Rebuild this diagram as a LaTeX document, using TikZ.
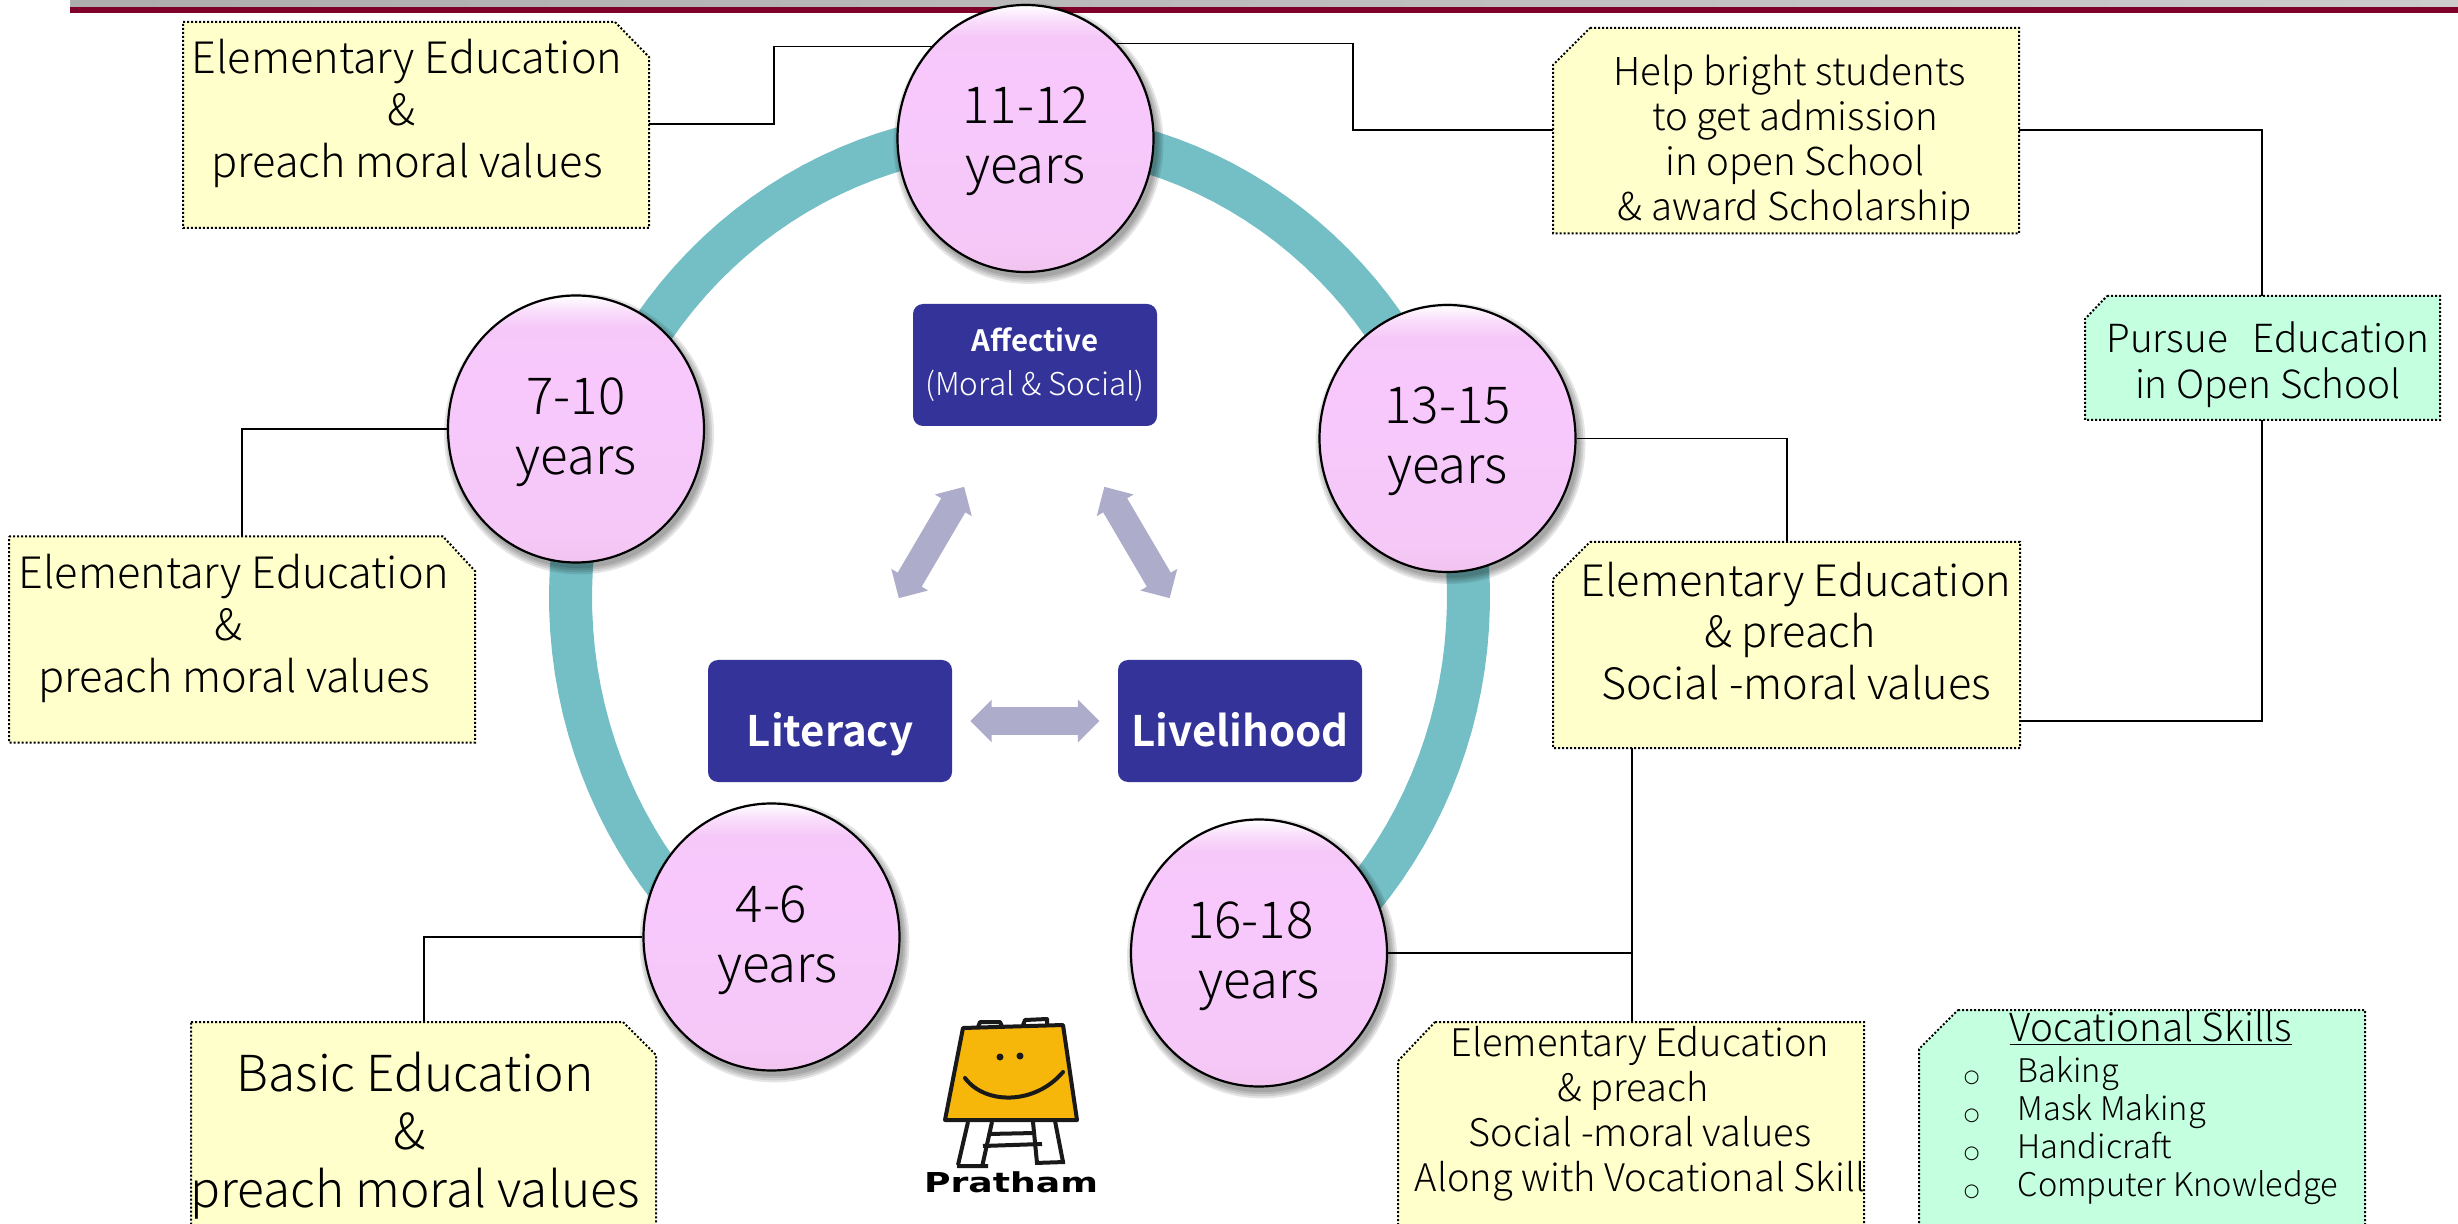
\documentclass[tikz,border=0pt]{standalone}
\usepackage{fontspec}
\usepackage{graphicx}
\setmainfont{Noto Sans CJK JP Light}[BoldFont={Noto Sans CJK JP Bold}]
\newfontfamily\logofont{DejaVu Sans}
\newfontfamily\bulletfont{DejaVu Sans}
\usetikzlibrary{shapes.geometric,shapes.arrows}
\definecolor{ringc}{HTML}{74BFC5}
\definecolor{yellowc}{HTML}{FFFFCC}
\definecolor{greenc}{HTML}{C4FFDF}
\definecolor{navyc}{HTML}{333399}
\definecolor{arrowc}{HTML}{ADADCB}
\definecolor{maroonc}{HTML}{7F0028}
\definecolor{logoc}{HTML}{F6B60A}
\definecolor{ballA}{HTML}{F1C4EF}
\definecolor{ballB}{HTML}{F5C8F8}
\definecolor{ballC}{HTML}{F8C8FC}
\definecolor{ballD}{HTML}{F6C8F9}
\definecolor{ballE}{HTML}{F9DDFB}
\pgfdeclareverticalshading{ballshade}{100bp}{color(0bp)=(ballA); color(25bp)=(ballA); color(30bp)=(ballB); color(60bp)=(ballC); color(69bp)=(ballD); color(72bp)=(ballE); color(75bp)=(white); color(100bp)=(white)}
\newcommand{\balltop}{\rule{0pt}{21.5pt}}
\newcommand{\ringbullet}{{\bulletfont\fontsize{9}{10}\selectfont ○}}
\tikzset{
  snipbox/.style={draw=black,fill=#1,line width=1pt,dash pattern=on 1pt off 1pt},
  boxtext/.style={inner sep=0pt,align=center,text=black},
  wire/.style={draw=black,line width=0.9pt},
  ball/.style={ellipse,draw=black,line width=1.1pt,minimum width=128pt,minimum height=133.5pt,inner sep=0pt,align=center,shading=ballshade,font=\fontsize{25.5}{30}\selectfont},
  ballshadow/.style={ellipse,fill=black,opacity=0.10,inner sep=0pt,minimum width=#1*0.5pt,minimum height=#1*0.5pt*1.04},
  navybox/.style={rectangle,rounded corners=5pt,fill=navyc,text=white,inner sep=0pt,minimum width=122pt,minimum height=61pt,align=center},
  twoway/.style={double arrow,fill=arrowc,inner sep=0pt,minimum width=21pt,minimum height=64.5pt,double arrow head extend=3.75pt},
  logoline/.style={draw=black!90,line width=2pt,line join=round}
}
\begin{document}
\begin{tikzpicture}[x=0.5pt,y=-0.5pt]
\useasboundingbox (0,0) rectangle (2458,1224);
\clip (0,0) rectangle (2458,1224);
% top band
\fill[left color=black!32,right color=black!20] (70,0) rectangle (2458,7);
\fill[maroonc] (70,7) rectangle (2458,13);
% ring
\draw[ringc,line width=21.5pt] plot[domain=-58:236,samples=120] ({1019.5+449*cos(\x)},{597-465*sin(\x)});
% boxes
\draw[snipbox=yellowc] (183,22) -- (615,22) -- (649,57) -- (649,228) -- (183,228) -- cycle;
\draw[snipbox=yellowc] (1590,28) -- (2019,28) -- (2019,233.5) -- (1553,233.5) -- (1553,65) -- cycle;
\draw[snipbox=greenc] (2107,296) -- (2440,296) -- (2440,420) -- (2085,420) -- (2085,319) -- cycle;
\draw[snipbox=yellowc] (1590,542) -- (2020,542) -- (2020,748) -- (1553,748) -- (1553,579) -- cycle;
\draw[snipbox=yellowc] (1435,1022) -- (1864,1022) -- (1864,1240) -- (1398,1240) -- (1398,1061) -- cycle;
\draw[snipbox=greenc] (1958,1010) -- (2365,1010) -- (2365,1240) -- (1919,1240) -- (1919,1049) -- cycle;
\draw[snipbox=yellowc] (9,536.5) -- (443,536.5) -- (475,571) -- (475,742.5) -- (9,742.5) -- cycle;
\draw[snipbox=yellowc] (191,1022) -- (623,1022) -- (656,1055) -- (656,1240) -- (191,1240) -- cycle;
% connector end points
\coordinate (b1r) at (649,124.4);
\coordinate (t1l) at (933,46.6);
\coordinate (t1r) at (1113,43.5);
\coordinate (b2l) at (1553,130);
\coordinate (b2r) at (2019,130);
\coordinate (b3t) at (2262,296);
\coordinate (b3b) at (2262,420);
\coordinate (b4r) at (2020,721);
\coordinate (b4t) at (1787,542);
\coordinate (b4b) at (1632,748);
\coordinate (b5t) at (1632,1022);
\coordinate (j5) at (1632,953);
\coordinate (b7t) at (242,536.5);
\coordinate (b8t) at (424,1022);
% connectors
\draw[wire] (b1r) -| (774,46.6) -- (t1l);
\draw[wire] (t1r) -| (1353,130) -- (b2l);
\draw[wire] (b2r) -| (b3t);
\draw[wire] (b3b) |- (b4r);
\draw[wire] (b4b) -- (b5t);
% shadows
\foreach \cx/\cy in {1025.5/138.5,576/429,1447.5/438.5,771.5/937,1259/953}{
  \foreach \d in {270,266,262,258}{
    \node[ballshadow=\d] at (\cx+3,\cy+5) {};
  }
}
% circles
\node[ball] (c1112) at (1025.5,138.5) {\balltop 11-12\\years};
\node[ball] (c710) at (576,429) {\balltop 7-10\\years};
\node[ball] (c1315) at (1447.5,438.5) {\balltop 13-15\\years};
\node[ball] (c46) at (771.5,937) {\balltop 4-6\\\hspace*{6pt}years};
\node[ball] (c1618) at (1259,953) {\balltop\hspace*{-8.6pt}16-18\\years};
% connectors from circles
\draw[wire] (c710.west) -| (b7t);
\draw[wire] (c1315.east) -| (b4t);
\draw[wire] (c46.west) -| (b8t);
\draw[wire] (c1618.east) -- (j5);
% box text
\node[boxtext,font=\fontsize{21.6}{26}\selectfont] (b1) at (407,113) {Elementary Education\\\hspace*{-6pt}\&\\preach moral values};
\node[boxtext,font=\fontsize{19.2}{22.5}\selectfont] (b2) at (1795,142) {\hspace*{-5.5pt}Help bright students\\to get admission\\in open School\\\& award Scholarship};
\node[boxtext,font=\fontsize{19.35}{22.8}\selectfont] (b3) at (2268,365) {Pursue\hspace{8pt} Education\\in Open School};
\node[boxtext,font=\fontsize{21.6}{25.8}\selectfont] (b4) at (1796,631) {Elementary Education\\\hspace*{-6pt}\& preach\\Social -moral values};
\node[boxtext,font=\fontsize{19}{22.5}\selectfont] (b5) at (1640,1114) {Elementary Education\\\hspace*{-7pt}\& preach\\Social -moral values\\Along with Vocational Skill};
\node[boxtext,font=\fontsize{21.6}{26}\selectfont] (b7) at (234,628) {Elementary Education\\\hspace*{-6pt}\&\\preach moral values};
\node[boxtext,font=\fontsize{24.8}{29}\selectfont] (b8) at (415,1135.5) {Basic Education\\\hspace*{-6pt}\&\\preach moral values};
\node[boxtext,anchor=north,font=\fontsize{16.3}{19.1}\selectfont] (b6) at (2151,1010) {\begin{tabular}{@{}l@{\hspace{19pt}}l@{}}\multicolumn{2}{c}{\fontsize{19.3}{21.5}\selectfont\underline{Vocational Skills}}\\[1.5pt]\ringbullet&Baking\\\ringbullet&Mask Making\\\ringbullet&Handicraft\\\ringbullet&Computer Knowledge\end{tabular}};
% learning domains
\node[navybox,font=\fontsize{15.7}{22}\selectfont] (aff) at (1035,365) {\textbf{\fontsize{14.7}{22}\selectfont Affective}\\(Moral \& Social)};
\node[navybox,font=\bfseries\fontsize{21}{24}\selectfont] (lit) at (830,721) {\raisebox{-12.5pt}[0pt][0pt]{Literacy}};
\node[navybox,font=\bfseries\fontsize{21}{24}\selectfont] (liv) at (1240,721) {\raisebox{-12.5pt}[0pt][0pt]{Livelihood}};
\node[twoway] (a1) at (1034.75,721) {\rule{0pt}{13.5pt}};
\node[twoway,rotate=59.6] (a2) at (931.5,542.5) {\rule{0pt}{13.5pt}};
\node[twoway,rotate=120.4] (a3) at (1137,542.5) {\rule{0pt}{13.5pt}};
% logo
\draw[logoline,fill=white] (978,1027) -- (980,1022) -- (1000,1022) -- (1002,1026);
\draw[logoline,fill=white] (1023,1025) -- (1025,1020) -- (1047,1019) -- (1047,1025);
\draw[logoline,fill=logoc] (963,1028) -- (1063,1025) -- (1077,1120) -- (945,1120) -- cycle;
\fill[black!90] (1000,1057) circle (3.5);
\fill[black!90] (1020,1056) circle (3.5);
\draw[logoline,line cap=round] (965,1078) .. controls (985,1105) and (1035,1105) .. (1063,1072);
\draw[logoline] (968,1122) -- (958,1165) (957,1166) -- (988,1166) (992,1122) -- (982,1167);
\draw[logoline] (988,1134) -- (1035,1133) (983,1146) -- (1042,1144);
\draw[logoline] (1033,1122) -- (1037,1163) (1055,1121) -- (1063,1162) (1035,1163) -- (1065,1162);
\node[inner sep=0pt,font=\logofont\bfseries\fontsize{13.7}{14}\selectfont] (pr) at (1011,1182) {\scalebox{1.32}[1]{Pratham}};
\end{tikzpicture}
\end{document}
